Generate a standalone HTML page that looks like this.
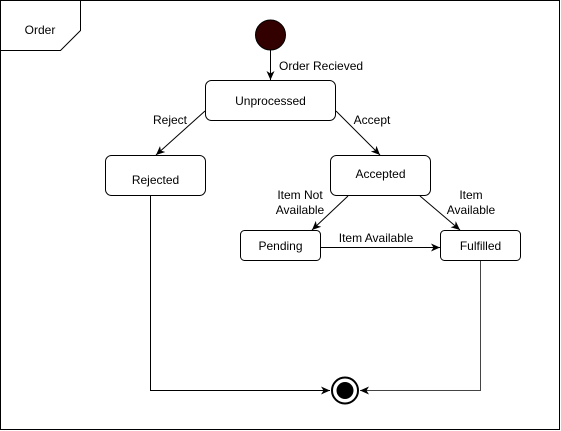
<!DOCTYPE html>
<html><head><meta charset="utf-8"><style>
html,body{margin:0;padding:0;background:#fff;}
svg{display:block;font-family:"Liberation Sans",Arial,sans-serif;}
</style></head><body>
<svg width="561" height="431" viewBox="0 0 561 431" xmlns="http://www.w3.org/2000/svg">
<defs>
<marker id="a" markerWidth="10" markerHeight="10" refX="9" refY="5" orient="auto" markerUnits="userSpaceOnUse">
<path d="M0,1 L9,5 L0,9 L2.5,5 Z" fill="#000"/>
</marker>
</defs>
<rect x="0.5" y="0.5" width="559" height="429" fill="#fff" stroke="#000" stroke-width="1"/>
<path d="M0.5,50.5 L60.5,50.5 L80.5,30.5 L80.5,0.5" fill="none" stroke="#000"/>
<text x="40" y="34" font-size="12" text-anchor="middle">Order</text>

<circle cx="270.5" cy="35" r="15" fill="#330000" stroke="#000"/>
<line x1="270.5" y1="50" x2="270.5" y2="80" stroke="#000" marker-end="url(#a)"/>
<text x="279" y="70" font-size="12">Order Recieved</text>

<g fill="#fff" stroke="#000">
<rect x="205.5" y="80.5" width="130" height="40" rx="6"/>
<rect x="105.5" y="155.5" width="100" height="40" rx="6"/>
<rect x="330.5" y="155.5" width="100" height="40" rx="6"/>
<rect x="240.5" y="230.5" width="80" height="30" rx="4"/>
<rect x="440.5" y="230.5" width="80" height="30" rx="4"/>
</g>
<g font-size="12" text-anchor="middle">
<text x="270.5" y="105">Unprocessed</text>
<text x="155.5" y="184">Rejected</text>
<text x="380.5" y="178">Accepted</text>
<text x="280.5" y="250">Pending</text>
<text x="480.5" y="250">Fulfilled</text>
<text x="170" y="124">Reject</text>
<text x="372" y="124">Accept</text>
<text x="300" y="199">Item Not</text>
<text x="300" y="214">Available</text>
<text x="471" y="199">Item</text>
<text x="471" y="214">Available</text>
<text x="376" y="242">Item Available</text>
</g>

<g stroke="#000" fill="none">
<line x1="205" y1="111" x2="156" y2="155" marker-end="url(#a)"/>
<line x1="336" y1="111" x2="380" y2="155" marker-end="url(#a)"/>
<line x1="348" y1="196" x2="312" y2="230" marker-end="url(#a)"/>
<line x1="420" y1="196" x2="460" y2="230" marker-end="url(#a)"/>
<line x1="320" y1="247.5" x2="440" y2="247.5" marker-end="url(#a)"/>
<polyline points="150.5,196 150.5,390.5 330,390.5" marker-end="url(#a)"/>
<polyline points="480.5,261 480.5,390.5 360,390.5" stroke="#444" marker-end="url(#a)"/>
</g>
<circle cx="345" cy="390.5" r="13" fill="#fff" stroke="#000" stroke-width="2"/>
<circle cx="345" cy="390.5" r="8.5" fill="#000"/>
</svg>
</body></html>
